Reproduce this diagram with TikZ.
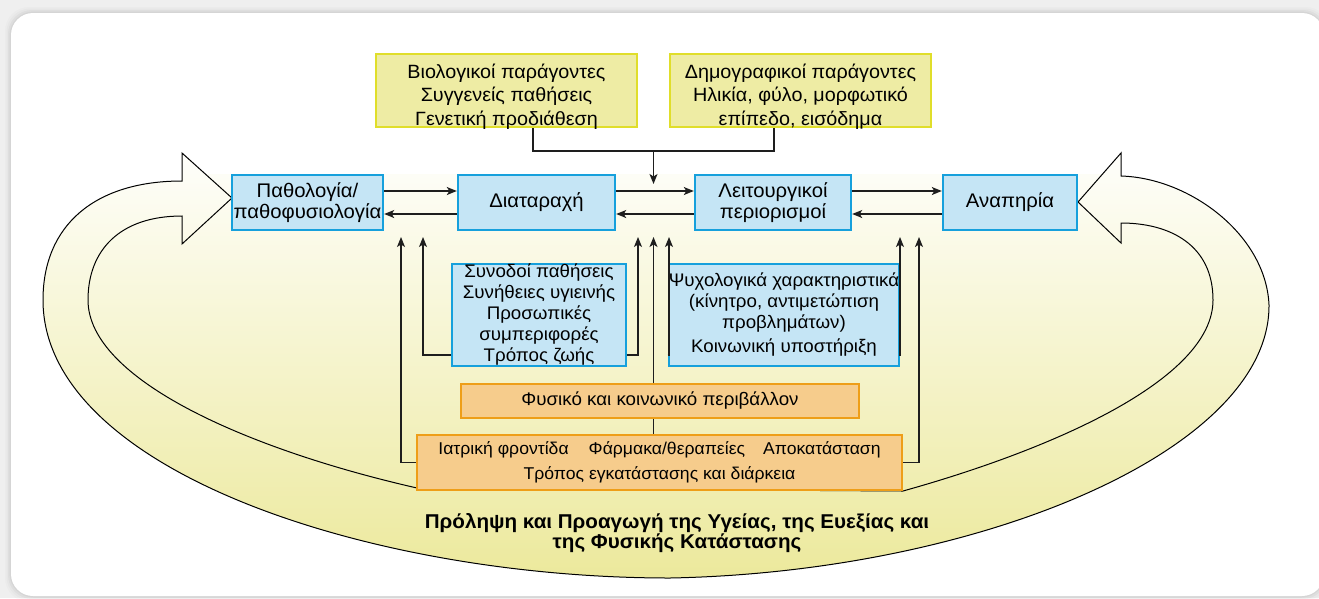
\documentclass[tikz,border=0pt]{standalone}
\usepackage{fontspec}
\setmainfont{Liberation Sans}[FakeStretch=1.03]
\usetikzlibrary{arrows.meta}

\definecolor{pagebg}{HTML}{EFEFEF}
\definecolor{ybg}{HTML}{EEECA4}
\definecolor{yline}{HTML}{E0DE2A}
\definecolor{bbg}{HTML}{C5E5F5}
\definecolor{bline}{HTML}{16A0DC}
\definecolor{obg}{HTML}{F6CC8C}
\definecolor{oline}{HTML}{EE9E18}
\definecolor{bandtop}{HTML}{FEFEFB}
\definecolor{bandmid}{HTML}{F6F4D8}
\definecolor{bandbot}{HTML}{ECE99C}
\definecolor{wire}{HTML}{1E1E1E}

\begin{document}
\begin{tikzpicture}[x=1pt,y=-1pt,
  box/.style={draw, line width=2.4pt, inner sep=0pt, align=center},
  ybox/.style={box, fill=ybg, draw=yline, minimum width=261pt, minimum height=73pt},
  bbox/.style={box, fill=bbg, draw=bline, minimum height=55pt,
               font=\fontsize{19.7}{21}\selectfont},
  mbox/.style={box, fill=bbg, draw=bline, minimum height=102pt,
               font=\fontsize{18.2}{21}\selectfont},
  obox/.style={box, fill=obg, draw=oline},
  ytext/.style={align=center, inner sep=0pt, font=\fontsize{19.2}{23.5}\selectfont},
  conn/.style={line width=1.2pt, draw=wire},
  arr/.style={conn, -{Stealth[length=10pt,width=8pt,inset=2.5pt]}},
  bandline/.style={line width=1pt, draw=black}
]
\useasboundingbox (0,0) rectangle (1319,598);

% page and card
\fill[pagebg] (0,0) rectangle (1319,598);
\foreach \s/\o in {6/0.015,4.5/0.02,3/0.03,1.5/0.04}
  \fill[black, opacity=\o, rounded corners=24pt] (11-\s,13-\s) rectangle (1324+\s,596+\s);
\fill[white, rounded corners=22pt] (11,13) rectangle (1324,596);

% shaded band with the region it wraps
\shade[top color=bandtop, middle color=bandmid, bottom color=bandbot]
  (182,181) -- (182,153) -- (205,174) -- (1102,174) -- (1121,153) -- (1121,176)
  .. controls (1190,178) and (1266,235) .. (1269,305)
  .. controls (1270,450) and (980,572) .. (670,578)
  .. controls (370,578) and (43,470) .. (43,300)
  .. controls (43,225) and (95,181) .. (182,181) -- cycle;

% outline of the curved double-headed arrow
\draw[bandline, line join=miter]
  (182,181) -- (182,153) -- (232,198) -- (182,244) -- (182,216)
  .. controls (120,216) and (88,250) .. (88,300)
  .. controls (88,380) and (250,450) .. (417,488)
  -- (903,491)
  .. controls (1050,450) and (1213,380) .. (1213,300)
  .. controls (1213,245) and (1170,223) .. (1121,223)
  -- (1121,243) -- (1078,202) -- (1121,153) -- (1121,176)
  .. controls (1190,178) and (1266,235) .. (1269,305)
  .. controls (1270,450) and (980,572) .. (670,578)
  .. controls (370,578) and (43,470) .. (43,300)
  .. controls (43,225) and (95,181) .. (182,181) -- cycle;

% factor boxes on top
\node[ybox] (bio) at (506.5,90.5) {};
\node[ytext] (biot) at (506.5,96.5) {Βιολογικοί παράγοντες\\Συγγενείς παθήσεις\\Γενετική προδιάθεση};
\node[ybox] (dem) at (800.5,90.5) {};
\node[ytext] (demt) at (800.5,96.5) {Δημογραφικοί παράγοντες\\Ηλικία, φύλο, μορφωτικό\\επίπεδο, εισόδημα};

% main chain
\node[bbox, minimum width=151pt] (pat) at (307.5,202.5) {Παθολογία/\\παθοφυσιολογία};
\node[bbox, minimum width=157pt] (dia) at (536.5,202.5) {Διαταραχή};
\node[bbox, minimum width=156pt] (lim) at (773,202.5) {Λειτουργικοί\\περιορισμοί};
\node[bbox, minimum width=134pt] (dis) at (1010,202.5) {Αναπηρία};

% personal factors
\node[mbox, minimum width=174pt] (ml) at (539,315)
  {Συνοδοί παθήσεις\\Συνήθειες υγιεινής\\Προσωπικές\\συμπεριφορές\\Τρόπος ζωής};
\node[mbox, minimum width=206pt] (mr) at (784,315)
  {Ψυχολογικά χαρακτηριστικά\\(κίνητρο, αντιμετώπιση\\προβλημάτων)\\[3pt]Κοινωνική υποστήριξη};

% environment and care
\node[obox, minimum width=398pt, minimum height=34pt, font=\fontsize{18.2}{21}\selectfont]
  (env) at (660,401) {Φυσικό και κοινωνικό περιβάλλον};
\node[obox, minimum width=485pt, minimum height=55pt, font=\fontsize{17.1}{25}\selectfont]
  (care) at (659.5,462.5)
  {Ιατρική φροντίδα\hspace{20pt}Φάρμακα/θεραπείες\hspace{18pt}Αποκατάσταση\\Τρόπος εγκατάστασης και διάρκεια};

\node[align=center, inner sep=0pt, font=\bfseries\fontsize{20}{20.5}\selectfont] (prom) at (677,533)
  {Πρόληψη και Προαγωγή της Υγείας, της Ευεξίας και\\της Φυσικής Κατάστασης};

% connectors
\coordinate (jn) at (653.5,151);
\coordinate (dn) at (653.5,184);
\draw[conn] ([xshift=26.5pt]bio.south) |- (jn) -| ([xshift=-26.5pt]dem.south);
\draw[arr] (jn) -- (dn);

\foreach \a/\b in {pat/dia, dia/lim, lim/dis}{
  \draw[arr] ([yshift=11.5pt]\a.east) -- ([yshift=11.5pt]\b.west);
  \draw[arr] ([yshift=-11.5pt]\b.west) -- ([yshift=-11.5pt]\a.east);
}

\coordinate (u1) at (401,237);
\coordinate (u2) at (423,237);
\coordinate (u3) at (638,237);
\coordinate (u4) at (653.5,237);
\coordinate (u5) at (669,237);
\coordinate (u6) at (900,237);
\coordinate (u7) at (919,237);
\draw[arr] (care.west) -| (u1);
\draw[arr] ([yshift=-40pt]ml.west) -| (u2);
\draw[arr] ([yshift=-40pt]ml.east) -| (u3);
\draw[conn] (care.north -| u4) -- (env.south -| u4);
\draw[arr] (env.north -| u4) -- (u4);
\draw[arr] ([yshift=-40pt]mr.west) -| (u5);
\draw[arr] ([yshift=-40pt]mr.east) -| (u6);
\draw[arr] (care.east) -| (u7);
\end{tikzpicture}
\end{document}
